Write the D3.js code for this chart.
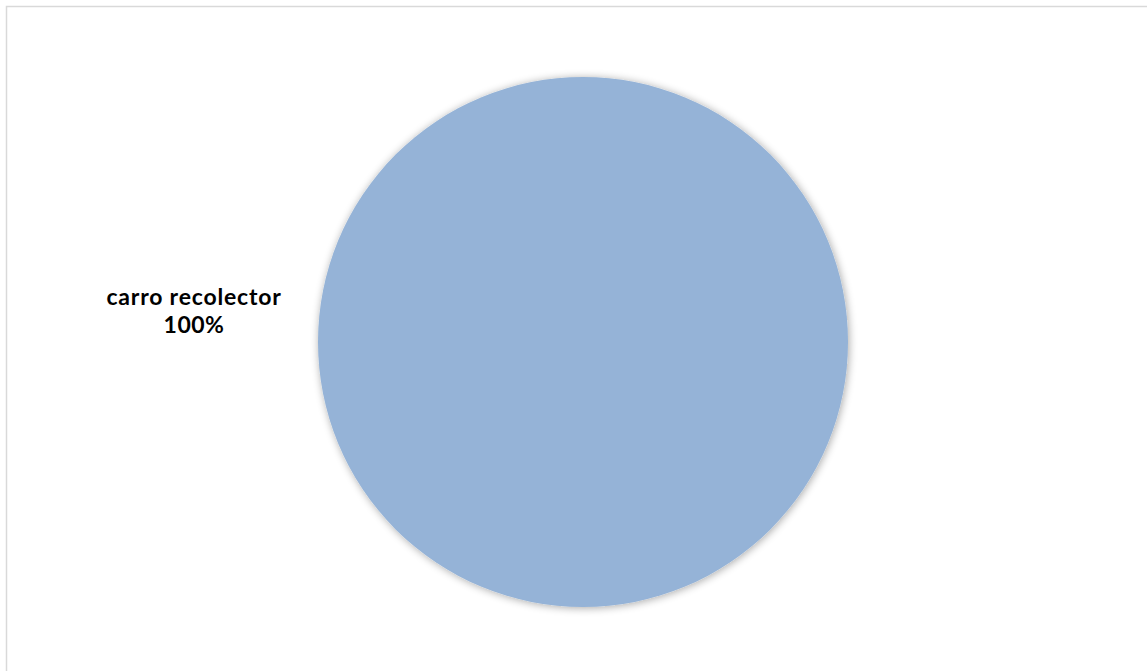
<!DOCTYPE html>
<html>
<head>
<meta charset="utf-8">
<script src="https://cdn.jsdelivr.net/npm/d3@7"></script>
<style>
html,body{margin:0;padding:0;background:#fff;}
svg{display:block;}
</style>
</head>
<body>
<svg id="chart" width="1147" height="671"></svg>
<script>
const categories = ["carro recolector"];
const values = [100];
const colors = ["#95B3D7"];

const svg = d3.select("#chart");
const W = 1147, H = 671;

// chart area border
svg.append("rect")
  .attr("x", 6.5).attr("y", 6.5)
  .attr("width", W + 10).attr("height", H + 10)
  .attr("fill", "#fff").attr("stroke", "#d9d9d9").attr("stroke-width", 1.5);

const defs = svg.append("defs");
const f = defs.append("filter").attr("id", "shadow")
  .attr("x", "-10%").attr("y", "-10%").attr("width", "120%").attr("height", "120%");
f.append("feGaussianBlur").attr("in", "SourceAlpha").attr("stdDeviation", 4).attr("result", "blur");
f.append("feOffset").attr("in", "blur").attr("dx", 1).attr("dy", 1).attr("result", "off");
f.append("feComponentTransfer").attr("in", "off").attr("result", "sh")
  .append("feFuncA").attr("type", "linear").attr("slope", 0.35);
const m = f.append("feMerge");
m.append("feMergeNode").attr("in", "sh");
m.append("feMergeNode").attr("in", "SourceGraphic");

const cx = 583, cy = 342, r = 265;
const pie = d3.pie().sort(null).value(d => d)(values);
const arc = d3.arc().innerRadius(0).outerRadius(r);

const g = svg.append("g").attr("transform", `translate(${cx},${cy})`);
g.selectAll("path.slice").data(pie).join("path")
  .attr("class", "slice")
  .attr("d", arc)
  .attr("fill", (d, i) => colors[i])
  .attr("filter", "url(#shadow)");

const total = d3.sum(values);
const fmt = d3.format(".0%");
const labels = svg.append("g");
const labelX = 194;
pie.forEach((d, i) => {
  const t = labels.append("text")
    .attr("x", labelX)
    .attr("y", 305)
    .attr("text-anchor", "middle")
    .attr("font-family", "Lato, 'Open Sans', sans-serif")
    .attr("font-weight", "bold")
    .attr("font-size", 23)
    .attr("fill", "#000");
  t.append("tspan").attr("x", labelX).attr("dy", 0)
    .attr("letter-spacing", 0.8).text(categories[i]);
  t.append("tspan").attr("x", labelX).attr("dy", 28)
    .attr("letter-spacing", 0.5).text(fmt(values[i] / total));
});
</script>
</body>
</html>
